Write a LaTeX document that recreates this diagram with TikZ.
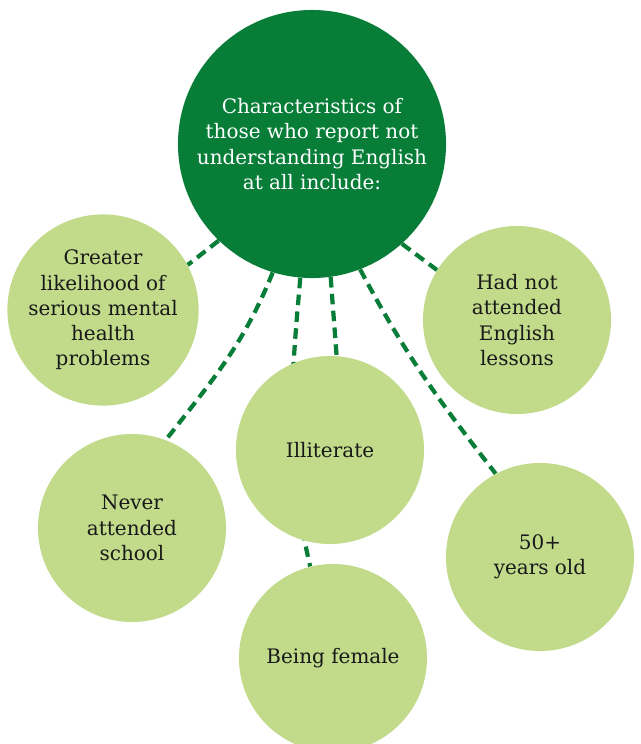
\documentclass[tikz,border=0pt]{standalone}
\usepackage{fontspec}
\setmainfont{DejaVu Serif}
\usepackage{xcolor}
\usepackage{tikz}
\usetikzlibrary{backgrounds}
\definecolor{cDarkGreen}{RGB}{7,125,56}
\definecolor{cLightGreen}{RGB}{194,219,139}
\definecolor{cText}{RGB}{25,25,25}
\tikzstyle{tsText} = [ 
    font=\fontsize{14.2}{18}\selectfont,
    text centered,
    align=center
]
\tikzstyle{tsCircle} = [ 
    circle,
    tsText,
    inner sep=0pt,
    minimum size=4.7cm,
    text=cText,
    fill=cLightGreen
]
\tikzstyle{tsBigCircle} = [ 
    tsCircle,
    minimum size=6.7cm,
    text=white,
    fill=cDarkGreen
]
\tikzstyle{tsLink} = [ 
    draw=cDarkGreen,
    line width=3pt,
    dash pattern=on 7.5pt off 4.5pt
]

\begin{document}
\begin{tikzpicture} [x=0.025cm, y=-0.025cm]
        \clip (0,0) rectangle (640,744);

        % Define nodes
        \node[tsBigCircle] (cen) at (312,144) {Characteristics of\\those who report not\\understanding English\\at all include:};

        \node[tsCircle] (grt) at (103,310) {Greater\\likelihood of\\serious mental\\health\\problems};
        \node[tsCircle] (les) at (517,320) {Had not\\attended\\English\\lessons};
        \node[tsCircle] (ill) at (330,450) {Illiterate};
        \node[tsCircle] (sch) at (132,528) {Never\\attended\\school};
        \node[tsCircle] (fem) at (333,658) {Being female};
        \node[tsCircle] (old) at (540,557) {50+\\years old};

        % Links behind the circles
        \begin{scope}[on background layer]
            \draw[tsLink] (cen.226) -- (grt.28);
            \draw[tsLink] (cen.312) -- (les.148);
            \draw[tsLink] (cen.253) to[out=248, in=52] (sch.69);
            \draw[tsLink] (cen.265) to[out=265, in=103] (fem.104);
            \draw[tsLink] (cen.278) to[out=274, in=94] (ill.86);
            \draw[tsLink] (cen.291) to[out=298, in=128] (old.118);
        \end{scope}

    \end{tikzpicture}
\end{document}
